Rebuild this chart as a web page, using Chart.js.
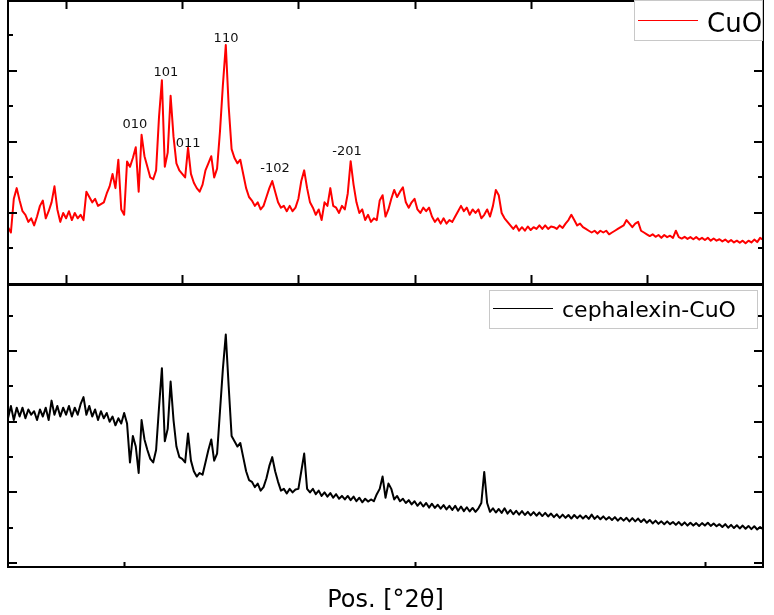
<!DOCTYPE html>
<html>
<head>
<meta charset="utf-8">
<script src="https://cdn.jsdelivr.net/npm/chart.js@4.4.0/dist/chart.umd.min.js"></script>
<style>
  body { margin: 0; background: #fff; }
  #wrap { position: relative; width: 774px; height: 615px; }
  canvas { position: absolute; left: 0; }
  #topChart { top: 0; }
  #bottomChart { top: 284px; }
</style>
</head>
<body>
<div id="wrap">
  <canvas id="topChart" width="774" height="286"></canvas>
  <canvas id="bottomChart" width="774" height="331"></canvas>
</div>
<script>
// --- DATA ---
const twoTheta = [
  15, 15.25, 15.5, 15.75, 16, 16.25, 16.5, 16.75, 17, 17.25, 17.5, 17.75,
  18, 18.25, 18.5, 18.75, 19, 19.25, 19.5, 19.75, 20, 20.25, 20.5, 20.75,
  21, 21.25, 21.5, 21.75, 22, 22.25, 22.5, 22.75, 23, 23.25, 23.5, 23.75,
  24, 24.25, 24.5, 24.75, 25, 25.25, 25.5, 25.75, 26, 26.25, 26.5, 26.75,
  27, 27.25, 27.5, 27.75, 28, 28.25, 28.5, 28.75, 29, 29.25, 29.5, 29.75,
  30, 30.25, 30.5, 30.75, 31, 31.25, 31.5, 31.75, 32, 32.25, 32.5, 32.75,
  33, 33.25, 33.5, 33.75, 34, 34.25, 34.5, 34.75, 35, 35.25, 35.5, 35.75,
  36, 36.25, 36.5, 36.75, 37, 37.25, 37.5, 37.75, 38, 38.25, 38.5, 38.75,
  39, 39.25, 39.5, 39.75, 40, 40.25, 40.5, 40.75, 41, 41.25, 41.5, 41.75,
  42, 42.25, 42.5, 42.75, 43, 43.25, 43.5, 43.75, 44, 44.25, 44.5, 44.75,
  45, 45.25, 45.5, 45.75, 46, 46.25, 46.5, 46.75, 47, 47.25, 47.5, 47.75,
  48, 48.25, 48.5, 48.75, 49, 49.25, 49.5, 49.75, 50, 50.25, 50.5, 50.75,
  51, 51.25, 51.5, 51.75, 52, 52.25, 52.5, 52.75, 53, 53.25, 53.5, 53.75,
  54, 54.25, 54.5, 54.75, 55, 55.25, 55.5, 55.75, 56, 56.25, 56.5, 56.75,
  57, 57.25, 57.5, 57.75, 58, 58.25, 58.5, 58.75, 59, 59.25, 59.5, 59.75,
  60, 60.25, 60.5, 60.75, 61, 61.25, 61.5, 61.75, 62, 62.25, 62.5, 62.75,
  63, 63.25, 63.5, 63.75, 64, 64.25, 64.5, 64.75, 65, 65.25, 65.5, 65.75,
  66, 66.25, 66.5, 66.75, 67, 67.25, 67.5, 67.75, 68, 68.25, 68.5, 68.75,
  69, 69.25, 69.5, 69.75, 70, 70.25, 70.5, 70.75, 71, 71.25, 71.5, 71.75,
  72, 72.25, 72.5, 72.75, 73, 73.25, 73.5, 73.75, 74, 74.25, 74.5, 74.75,
  75, 75.25, 75.5, 75.75, 76, 76.25, 76.5, 76.75, 77, 77.25, 77.5, 77.75,
  78, 78.25, 78.5, 78.75, 79, 79.25, 79.5, 79.75, 80
];

// CuO (ust panel, kirmizi)
const cuoCounts = [
  1.6, 1.45, 2.4, 2.7, 2.35, 2.05, 1.95, 1.75, 1.85, 1.65, 1.9, 2.2,
  2.35, 1.85, 2.05, 2.3, 2.75, 2.1, 1.75, 2.0, 1.85, 2.05, 1.8, 2.0,
  1.85, 1.95, 1.8, 2.6, 2.45, 2.3, 2.4, 2.2, 2.25, 2.3, 2.55, 2.75,
  3.1, 2.7, 3.5, 2.1, 1.95, 3.45, 3.3, 3.55, 3.85, 2.6, 4.2, 3.6,
  3.3, 3.0, 2.95, 3.2, 4.7, 5.74, 3.3, 3.7, 5.3, 4.15, 3.4, 3.2,
  3.1, 3.0, 3.84, 3.1, 2.85, 2.7, 2.6, 2.8, 3.2, 3.4, 3.6, 3.0,
  3.25, 4.3, 5.6, 6.73, 5.0, 3.8, 3.55, 3.4, 3.5, 3.1, 2.7, 2.45,
  2.35, 2.2, 2.3, 2.1, 2.2, 2.45, 2.7, 2.9, 2.6, 2.3, 2.15, 2.2,
  2.05, 2.2, 2.05, 2.15, 2.4, 2.9, 3.2, 2.7, 2.3, 2.15, 1.95, 2.1,
  1.8, 2.3, 2.2, 2.7, 2.2, 2.15, 2.0, 2.2, 2.1, 2.55, 3.46, 2.8,
  2.3, 2.0, 2.1, 1.8, 1.95, 1.75, 1.85, 1.8, 2.35, 2.5, 1.9, 2.1,
  2.4, 2.65, 2.45, 2.6, 2.72, 2.3, 2.15, 2.3, 2.4, 2.1, 2.0, 2.15,
  2.05, 2.15, 1.9, 1.75, 1.85, 1.7, 1.85, 1.7, 1.8, 1.75, 1.9, 2.05,
  2.2, 2.05, 2.15, 1.95, 2.1, 2.0, 2.1, 1.85, 1.95, 2.1, 1.9, 2.2,
  2.65, 2.5, 2.0, 1.85, 1.75, 1.65, 1.55, 1.65, 1.5, 1.6, 1.5, 1.62,
  1.52, 1.6, 1.55, 1.65, 1.55, 1.65, 1.55, 1.62, 1.6, 1.55, 1.65, 1.58,
  1.7, 1.8, 1.95, 1.8, 1.65, 1.7, 1.6, 1.55, 1.5, 1.45, 1.5, 1.42,
  1.5, 1.45, 1.5, 1.4, 1.45, 1.5, 1.55, 1.6, 1.65, 1.8, 1.7, 1.6,
  1.7, 1.75, 1.5, 1.45, 1.4, 1.35, 1.4, 1.33, 1.38, 1.3, 1.38, 1.32,
  1.36, 1.3, 1.5, 1.32, 1.28, 1.33, 1.27, 1.32, 1.26, 1.32, 1.25, 1.3,
  1.24, 1.3, 1.22, 1.28, 1.22, 1.26, 1.2, 1.25, 1.18, 1.24, 1.17, 1.22,
  1.16, 1.22, 1.15, 1.22, 1.17, 1.25, 1.18, 1.3, 1.25
];

// cephalexin-CuO (alt panel, siyah)
const cephCounts = [
  4.1, 4.45, 4.05, 4.4, 4.15, 4.4, 4.1, 4.35, 4.2, 4.3, 4.05, 4.35,
  4.15, 4.4, 4.05, 4.6, 4.2, 4.45, 4.15, 4.4, 4.2, 4.45, 4.15, 4.4,
  4.2, 4.5, 4.7, 4.2, 4.45, 4.15, 4.35, 4.05, 4.3, 4.1, 4.25, 4.0,
  4.15, 3.9, 4.1, 3.95, 4.25, 3.95, 2.85, 3.6, 3.3, 2.55, 4.05, 3.5,
  3.2, 2.95, 2.85, 3.2, 4.4, 5.52, 3.45, 3.8, 5.14, 4.05, 3.3, 3.0,
  2.95, 2.85, 3.67, 2.9, 2.6, 2.45, 2.55, 2.5, 2.85, 3.2, 3.5, 2.9,
  3.1, 4.3, 5.5, 6.47, 5.0, 3.6, 3.45, 3.3, 3.4, 3.0, 2.6, 2.35,
  2.3, 2.15, 2.25, 2.05, 2.15, 2.4, 2.75, 3.0, 2.6, 2.3, 2.05, 2.1,
  1.97, 2.1, 2.0, 2.08, 2.1, 2.6, 3.1, 2.1, 2.0, 2.1, 1.95, 2.05,
  1.9, 2.0, 1.88, 1.98, 1.85, 1.95, 1.82, 1.9, 1.8, 1.9, 1.78, 1.88,
  1.75, 1.85, 1.72, 1.82, 1.74, 1.8, 1.75, 1.95, 2.1, 2.45, 1.85, 2.25,
  2.1, 1.8, 1.9, 1.75, 1.82, 1.7, 1.78, 1.66, 1.75, 1.62, 1.72, 1.6,
  1.7, 1.57, 1.68, 1.56, 1.65, 1.54, 1.64, 1.52, 1.62, 1.5, 1.62, 1.48,
  1.6, 1.47, 1.58, 1.46, 1.56, 1.45, 1.55, 1.7, 2.58, 1.7, 1.45, 1.55,
  1.43, 1.53, 1.42, 1.55, 1.4, 1.5, 1.38, 1.48, 1.37, 1.47, 1.36, 1.45,
  1.35, 1.44, 1.34, 1.43, 1.33, 1.42, 1.32, 1.4, 1.3, 1.38, 1.28, 1.37,
  1.28, 1.36, 1.26, 1.36, 1.27, 1.35, 1.26, 1.34, 1.25, 1.37, 1.25, 1.33,
  1.24, 1.32, 1.23, 1.3, 1.22, 1.3, 1.2, 1.28, 1.2, 1.28, 1.18, 1.27,
  1.18, 1.26, 1.16, 1.24, 1.14, 1.22, 1.12, 1.2, 1.11, 1.18, 1.1, 1.18,
  1.1, 1.16, 1.08, 1.16, 1.07, 1.15, 1.06, 1.14, 1.06, 1.13, 1.05, 1.13,
  1.06, 1.14, 1.05, 1.12, 1.04, 1.1, 1.02, 1.1, 1.0, 1.08, 0.99, 1.07,
  0.98, 1.06, 0.97, 1.05, 0.96, 1.04, 0.95, 1.02, 0.96
];

// Pik etiketleri (ust panel)
const peakNames = ["010", "101", "011", "110", "-102", "-201"];
const peakTheta = [25.93, 28.6, 30.5, 33.77, 37.99, 44.19];
const peakLabelY = [4.39, 5.86, 3.86, 6.82, 3.15, 3.63];

// Eksen tikleri (etiketsiz)
const topXTicks = [20, 30, 40, 50, 60, 70];
const bottomXTicks = [25, 50, 75];
const topYTicks = [1, 2, 3, 4, 5, 6, 7];
const bottomYTicks = [0, 1, 2, 3, 4, 5, 6, 7];

const xTitle = "Pos. [°2θ]";

// --- CERCEVE + TIKLER + LEJANT ---
const framePlugin = {
  id: 'frame',
  afterDatasetsDraw(chart, args, opts) {
    const { ctx, chartArea: a, scales: { x, y } } = chart;
    const ds = chart.data.datasets[0];
    ctx.save();

    // tikler
    ctx.strokeStyle = '#000';
    ctx.lineWidth = 2;
    ctx.beginPath();
    opts.xTicks.forEach(v => {
      const px = Math.round(x.getPixelForValue(v)) + 0.5;
      if (opts.topTicks) { ctx.moveTo(px, a.top); ctx.lineTo(px, a.top + 8); }
      ctx.moveTo(px, a.bottom); ctx.lineTo(px, a.bottom - opts.xLen);
    });
    opts.yTicks.forEach(v => {
      const py = Math.round(y.getPixelForValue(v));
      const len = v % 2 === 0 ? 9 : 5;
      ctx.moveTo(a.left, py); ctx.lineTo(a.left + len, py);
      ctx.moveTo(a.right, py); ctx.lineTo(a.right - len, py);
    });
    ctx.stroke();

    // cerceve
    ctx.strokeRect(a.left, a.top, a.right - a.left, a.bottom - a.top);

    // pik etiketleri
    if (opts.peaks) {
      ctx.fillStyle = '#111';
      ctx.font = '13px "DejaVu Sans"';
      ctx.textAlign = 'center';
      ctx.textBaseline = 'alphabetic';
      peakNames.forEach((name, i) => {
        ctx.fillText(name, x.getPixelForValue(peakTheta[i]), y.getPixelForValue(peakLabelY[i]));
      });
    }

    // lejant
    const L = opts.legend;
    ctx.fillStyle = '#fff';
    ctx.fillRect(L.x, L.y, L.w, L.h);
    ctx.strokeStyle = '#c8c8c8';
    ctx.lineWidth = 1;
    ctx.strokeRect(L.x + 0.5, L.y + 0.5, L.w, L.h);
    ctx.strokeStyle = ds.borderColor;
    ctx.beginPath();
    ctx.moveTo(L.x + 4, L.lineY + 0.5);
    ctx.lineTo(L.x + 64, L.lineY + 0.5);
    ctx.stroke();
    ctx.fillStyle = '#000';
    ctx.font = L.font;
    ctx.textAlign = 'left';
    ctx.fillText(ds.label, L.x + 73, L.textY);

    // x ekseni basligi
    if (opts.title) {
      ctx.font = '24px "DejaVu Sans"';
      ctx.textAlign = 'center';
      ctx.fillText(opts.title, (a.left + a.right) / 2, a.bottom + 40);
    }
    ctx.restore();
  }
};

function makePanel(canvasId, label, color, values, yMin, yMax, padBottom, frameOpts) {
  return new Chart(document.getElementById(canvasId), {
    type: 'line',
    data: {
      datasets: [{
        label: label,
        data: twoTheta.map((t, i) => ({ x: t, y: values[i] })),
        borderColor: color,
        borderWidth: 2,
        borderJoinStyle: 'round',
        pointRadius: 0,
        tension: 0,
        fill: false
      }]
    },
    options: {
      responsive: false,
      animation: false,
      layout: { padding: { left: 8, right: 11, top: 1, bottom: padBottom } },
      scales: {
        x: { type: 'linear', min: 15, max: 80, display: false },
        y: { type: 'linear', min: yMin, max: yMax, display: false }
      },
      plugins: {
        legend: { display: false },
        tooltip: { enabled: false },
        frame: frameOpts
      }
    },
    plugins: [framePlugin]
  });
}

makePanel('topChart', 'CuO', '#ff0000', cuoCounts, 0, 7.97, 2, {
  xTicks: topXTicks, yTicks: topYTicks, topTicks: true, xLen: 9, peaks: true,
  legend: { x: 634, y: 0, w: 128, h: 40, lineY: 20, textY: 32, font: '26px "DejaVu Sans"' }
});

makePanel('bottomChart', 'cephalexin-CuO', '#000000', cephCounts, -0.113, 7.875, 48, {
  xTicks: bottomXTicks, yTicks: bottomYTicks, topTicks: false, xLen: 5, peaks: false,
  title: xTitle,
  legend: { x: 489, y: 6, w: 268, h: 38, lineY: 24, textY: 33, font: '22px "DejaVu Sans"' }
});
</script>
</body>
</html>
